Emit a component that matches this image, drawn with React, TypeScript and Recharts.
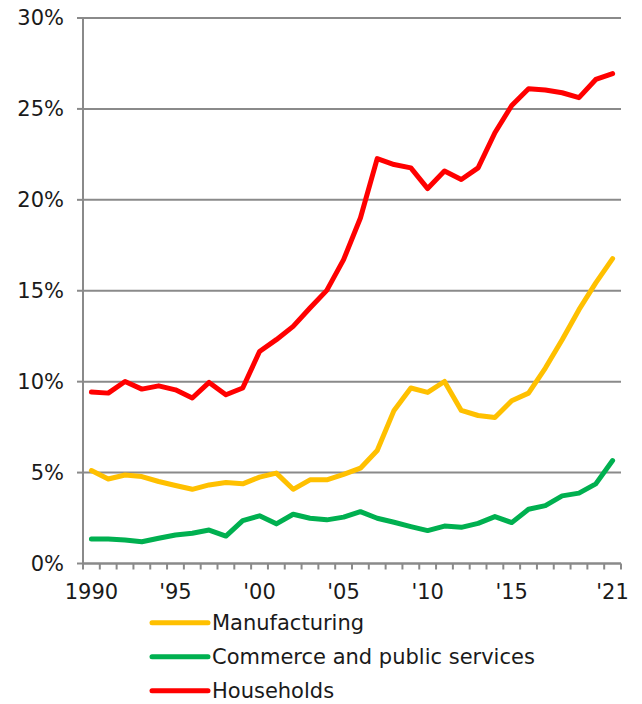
import { LineChart, Line, XAxis, YAxis, CartesianGrid } from "recharts";

const years = [
  "1990", "1991", "1992", "1993", "1994", "1995", "1996", "1997", "1998", "1999",
  "2000", "2001", "2002", "2003", "2004", "2005", "2006", "2007", "2008", "2009",
  "2010", "2011", "2012", "2013", "2014", "2015", "2016", "2017", "2018", "2019",
  "2020", "2021",
];

const manufacturing = [
  5.11, 4.65, 4.87, 4.78, 4.51, 4.29, 4.08, 4.32, 4.45, 4.38,
  4.75, 4.97, 4.08, 4.6, 4.6, 4.9, 5.24, 6.21, 8.42, 9.65,
  9.41, 10.01, 8.42, 8.14, 8.03, 8.95, 9.37, 10.75, 12.31, 13.96,
  15.43, 16.77,
];

const commerce = [
  1.35, 1.35, 1.29, 1.2, 1.39, 1.57, 1.66, 1.84, 1.51, 2.36,
  2.62, 2.18, 2.71, 2.49, 2.4, 2.55, 2.85, 2.49, 2.27, 2.03,
  1.81, 2.06, 1.99, 2.21, 2.58, 2.25, 2.98, 3.18, 3.72, 3.87,
  4.38, 5.66,
];

const households = [
  9.43, 9.37, 10.01, 9.59, 9.77, 9.55, 9.1, 9.96, 9.28, 9.65,
  11.66, 12.31, 13.04, 14.05, 15.02, 16.71, 19.0, 22.27, 21.94, 21.76,
  20.62, 21.58, 21.12, 21.76, 23.69, 25.19, 26.11, 26.04, 25.89, 25.62,
  26.62, 26.94,
];

const yTicks = [0, 5, 10, 15, 20, 25, 30];

const xLabels: Record<string, string> = {
  "1990": "1990",
  "1995": "'95",
  "2000": "'00",
  "2005": "'05",
  "2010": "'10",
  "2015": "'15",
  "2021": "'21",
};

const series = [
  { key: "manufacturing", name: "Manufacturing", color: "#FFC000" },
  { key: "commerce", name: "Commerce and public services", color: "#00B050" },
  { key: "households", name: "Households", color: "#FF0000" },
];

const data = years.map((year, i) => ({
  year,
  manufacturing: manufacturing[i],
  commerce: commerce[i],
  households: households[i],
}));

const WIDTH = 642;
const HEIGHT = 704;
const Y_AXIS_W = 83;
const MARGIN = { top: 18, right: 21, bottom: 100.5, left: 0 };
const PLOT_W = WIDTH - Y_AXIS_W - MARGIN.right;
const HALF = PLOT_W / years.length / 2;
const GRAY = "#8a8a8a";
const TEXT = "#1a1a1a";
const FONT = "'DejaVu Sans', Verdana, sans-serif";

// category ticks sit between the points, labels only on a few years
function XTick({ x, y, payload, index }: any) {
  const label = xLabels[payload.value];
  return (
    <g>
      <line x1={x - HALF} x2={x - HALF} y1={y} y2={y + 6} stroke={GRAY} strokeWidth={2} />
      {index === years.length - 1 && (
        <line x1={x + HALF} x2={x + HALF} y1={y} y2={y + 6} stroke={GRAY} strokeWidth={2} />
      )}
      {label && (
        <text x={x} y={y + 35} textAnchor="middle" fontSize={21} fontFamily={FONT} fill={TEXT}>
          {label}
        </text>
      )}
    </g>
  );
}

export default function App() {
  return (
    <div style={{ position: "absolute", left: 0, top: 0, width: WIDTH, height: HEIGHT, background: "#fff" }}>
      <LineChart width={WIDTH} height={HEIGHT} data={data} margin={MARGIN}>
        <CartesianGrid vertical={false} stroke={GRAY} strokeWidth={2} />
        <XAxis
          dataKey="year"
          interval={0}
          padding={{ left: HALF, right: HALF }}
          height={40}
          tickSize={0}
          tickMargin={0}
          tickLine={false}
          axisLine={{ stroke: GRAY, strokeWidth: 2 }}
          tick={<XTick />}
        />
        <YAxis
          width={Y_AXIS_W}
          domain={[0, 30]}
          ticks={yTicks}
          interval={0}
          tickFormatter={(v: number) => `${v}%`}
          tickSize={6}
          tickMargin={13}
          tickLine={{ stroke: GRAY, strokeWidth: 2 }}
          axisLine={{ stroke: GRAY, strokeWidth: 2 }}
          tick={{ fontSize: 21, fontFamily: FONT, fill: TEXT }}
        />
        {series.map((s) => (
          <Line
            key={s.key}
            type="linear"
            dataKey={s.key}
            name={s.name}
            stroke={s.color}
            strokeWidth={5}
            strokeLinecap="round"
            strokeLinejoin="round"
            dot={false}
            activeDot={false}
            isAnimationActive={false}
          />
        ))}
      </LineChart>
      <svg
        width={WIDTH}
        height={HEIGHT}
        style={{ position: "absolute", left: 0, top: 0, pointerEvents: "none" }}
      >
        {series.map((s, i) => {
          const ly = 622.7 + i * 34;
          return (
            <g key={s.key}>
              <line x1={152} x2={208} y1={ly} y2={ly} stroke={s.color} strokeWidth={5} strokeLinecap="round" />
              <text x={212} y={ly + 7.5} fontSize={21} fontFamily={FONT} fill={TEXT}>
                {s.name}
              </text>
            </g>
          );
        })}
      </svg>
    </div>
  );
}
